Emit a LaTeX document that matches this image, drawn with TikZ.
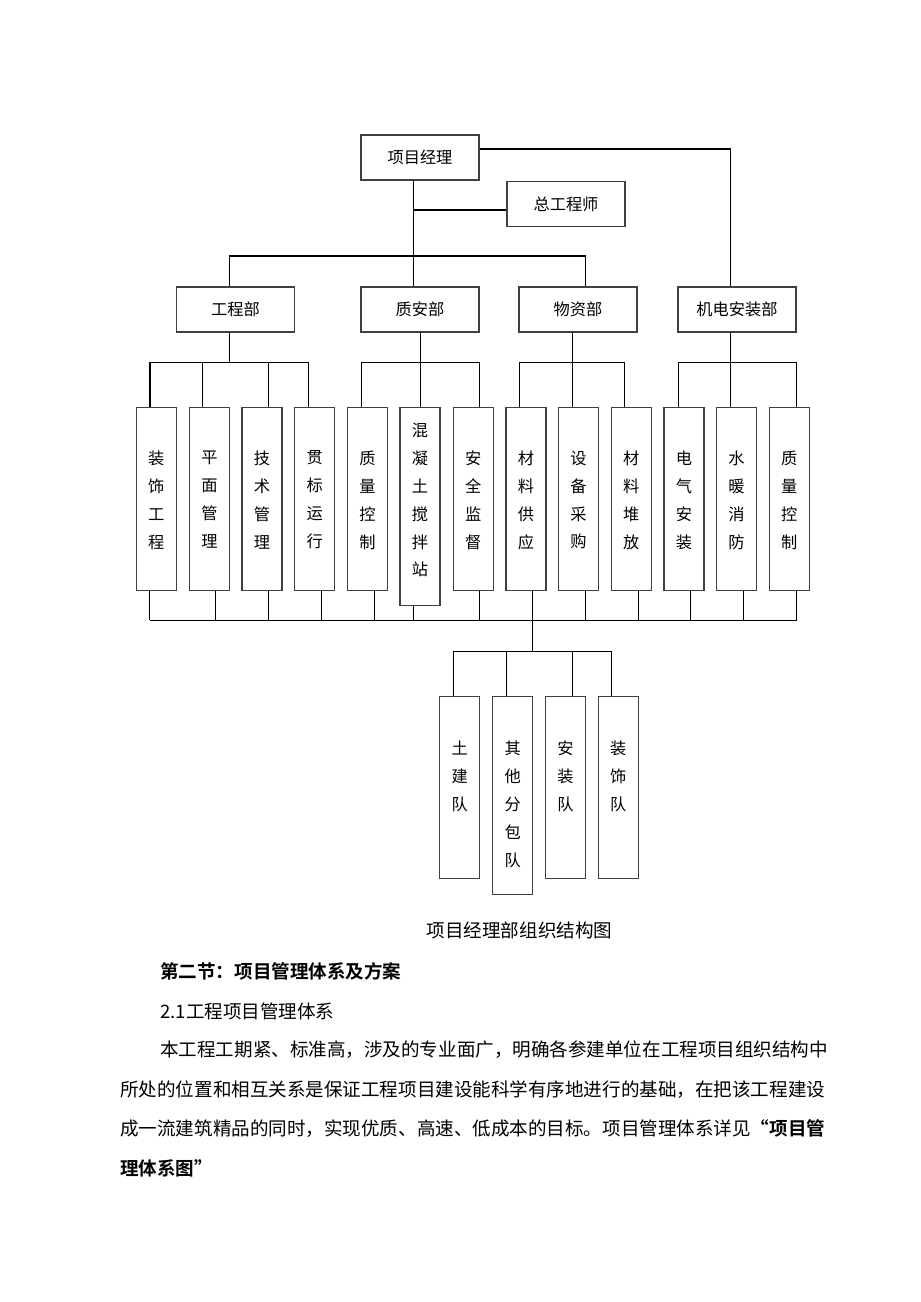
\documentclass[tikz,border=0pt]{standalone}
\usepackage{fontspec}
\setmainfont{Noto Sans CJK SC}[BoldFont={Noto Sans CJK SC Bold}]
\newcommand\chartfont{\fontsize{10.5pt}{18.1pt}\selectfont}
\newcommand\bodyfont{\fontsize{12pt}{14pt}\selectfont}
\definecolor{boxline}{gray}{0.25}
\begin{document}
\begin{tikzpicture}[x=0.647pt,y=-0.647pt,
  box/.style={draw=boxline, line width=0.8pt, inner sep=0pt, minimum width={118*0.647pt}, minimum height={45*0.647pt}, font=\chartfont},
  tall/.style={draw=boxline, line width=0.8pt, inner sep=0pt, minimum width={40*0.647pt}, minimum height={#1*0.647pt}, anchor=north},
  vtext/.style={align=center, font=\chartfont, inner sep=0pt},
  conn/.style={line width=0.65pt},
  para/.style={font=\bodyfont, inner sep=0pt, anchor=west}]
\useasboundingbox[fill=white] (0,0) rectangle (920,1302);

% top level
\node[box] (pm) at (420,157.5) {项目经理};
\node[box] (ce) at (566,204) {总工程师};
\node[box] (d1) at (235.5,309.5) {工程部};
\node[box] (d2) at (420,309.5) {质安部};
\node[box] (d3) at (578,309.5) {物资部};
\node[box] (d4) at (737,309.5) {机电安装部};

% tall boxes row
\node[tall=183] (t1) at (156.3,407) {};
\node[tall=183] (t2) at (209.4,407) {};
\node[tall=183] (t3) at (262,407) {};
\node[tall=183] (t4) at (314.7,407) {};
\node[tall=183] (t5) at (367.4,407) {};
\node[tall=198] (t6) at (420.1,407) {};
\node[tall=183] (t7) at (473.2,407) {};
\node[tall=183] (t8) at (525.9,407) {};
\node[tall=183] (t9) at (578.6,407) {};
\node[tall=183] (t10) at (631.3,407) {};
\node[tall=183] (t11) at (683.9,407) {};
\node[tall=183] (t12) at (736.6,407) {};
\node[tall=183] (t13) at (789.3,407) {};

\node[vtext] (x1) at (156.3,500) {装\\饰\\工\\程};
\node[vtext] (x2) at (209.4,500) {平\\面\\管\\理};
\node[vtext] (x3) at (262,500) {技\\术\\管\\理};
\node[vtext] (x4) at (314.7,500) {贯\\标\\运\\行};
\node[vtext] (x5) at (367.4,500) {质\\量\\控\\制};
\node[vtext] (x6) at (420.1,500) {混\\凝\\土\\搅\\拌\\站};
\node[vtext] (x7) at (473.2,500) {安\\全\\监\\督};
\node[vtext] (x8) at (525.9,500) {材\\料\\供\\应};
\node[vtext] (x9) at (578.6,500) {设\\备\\采\\购};
\node[vtext] (x10) at (631.3,500) {材\\料\\堆\\放};
\node[vtext] (x11) at (683.9,500) {电\\气\\安\\装};
\node[vtext] (x12) at (736.6,500) {水\\暖\\消\\防};
\node[vtext] (x13) at (789.3,500) {质\\量\\控\\制};

% bottom row
\node[tall=182] (s1) at (459.8,696) {};
\node[tall=198] (s2) at (512.7,696) {};
\node[tall=182] (s3) at (565.5,696) {};
\node[tall=182] (s4) at (618.2,696) {};
\node[vtext] (y1) at (459.8,776) {土\\建\\队};
\node[vtext] (y2) at (512.7,804) {其\\他\\分\\包\\队};
\node[vtext] (y3) at (565.5,776) {安\\装\\队};
\node[vtext] (y4) at (618.2,776) {装\\饰\\队};

% connectors, top
\coordinate (tx) at (413.5,210);
\draw[conn] (pm.south -| tx) -- (d2.north -| tx);
\draw[conn] (tx) -- (tx -| ce.west);
\coordinate (r) at (730,149);
\draw[conn] (pm.east |- r) -- (r) -- (d4.north -| r);
\coordinate (b0) at (229,256);
\coordinate (b1) at (585,256);
\draw[conn] (d1.north -| b0) -- (b0) -- (b1) -- (d3.north -| b1);

% department to group buses
\coordinate (g1) at (229,362);
\coordinate (g2) at (420,362);
\coordinate (g3) at (572,362);
\coordinate (g4) at (730,362);
\draw[conn] (d1.south -| g1) -- (g1);
\draw[conn] (d2.south -| g2) -- (g2);
\draw[conn] (d3.south -| g3) -- (g3);
\draw[conn] (d4.south -| g4) -- (g4);
\coordinate (h1a) at (150,362); \coordinate (h1b) at (308,362);
\coordinate (h2a) at (361,362); \coordinate (h2b) at (479.5,362);
\coordinate (h3a) at (519,362); \coordinate (h3b) at (624.6,362);
\coordinate (h4a) at (678,362); \coordinate (h4b) at (796.5,362);
\draw[conn] (h1a) -- (h1b);
\draw[conn] (h2a) -- (h2b);
\draw[conn] (h3a) -- (h3b);
\draw[conn] (h4a) -- (h4b);
\foreach \n/\x in {1/150,2/202,3/268,4/308,5/361,6/420,7/479.5,8/519,9/572,10/624.6,11/678,12/730,13/796.5}{
  \coordinate (tmp) at (\x,362);
  \draw[conn] (tmp) -- (t\n.north -| tmp);
}

% bottom bus
\foreach \n/\x in {1/149.6,2/215.7,3/268.4,4/321,5/374.2,6/413.5,7/479.5,8/532.7,9/585.4,10/638,11/690.7,12/743.4,13/796.5}{
  \coordinate (tmp) at (\x,620);
  \draw[conn] (t\n.south -| tmp) -- (tmp);
}
\coordinate (ba) at (149.6,620); \coordinate (bb) at (796.5,620);
\draw[conn] (ba) -- (bb);
\coordinate (k0) at (532.5,620); \coordinate (k1) at (532.5,651);
\draw[conn] (k0) -- (k1);
\coordinate (ka) at (453,651); \coordinate (kb) at (611.7,651);
\draw[conn] (ka) -- (kb);
\foreach \n/\x in {1/453,2/506,3/572,4/611.7}{
  \coordinate (tmp) at (\x,651);
  \draw[conn] (tmp) -- (s\n.north -| tmp);
}

% text below
\node[font=\bodyfont, inner sep=0pt] (cap) at (519.5,930) {项目经理部组织结构图};
\node[para, font=\bodyfont\bfseries] (hd) at (160,971) {第二节：项目管理体系及方案};
\node[para] (sub) at (160,1011) {2.1工程项目管理体系};
\node[para] (l1) at (160,1050) {本工程工期紧、标准高，涉及的专业面广，明确各参建单位在工程项目组织结构中};
\node[para] (l2) at (120,1090) {所处的位置和相互关系是保证工程项目建设能科学有序地进行的基础，在把该工程建设};
\node[para] (l3) at (120,1129) {成一流建筑精品的同时，实现优质、高速、低成本的目标。项目管理体系详见\textbf{“项目管}};
\node[para] (l4) at (120,1168) {\textbf{理体系图”}};
\end{tikzpicture}
\end{document}
